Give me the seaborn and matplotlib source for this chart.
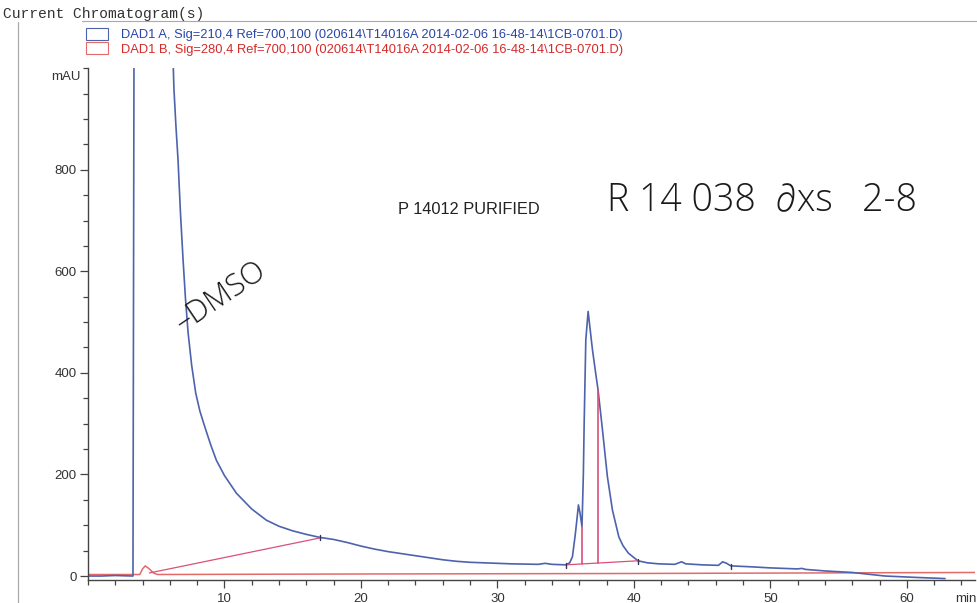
import numpy as np
import pandas as pd
import matplotlib
matplotlib.use("Agg")
import matplotlib.pyplot as plt
import seaborn as sns
from matplotlib.patches import Patch
from matplotlib.ticker import MultipleLocator, FixedLocator
from matplotlib.lines import Line2D

# ---------------- data ----------------
time_a = [0.0, 1.0, 2.0, 3.30, 3.38, 6.15, 6.30, 6.45, 6.60, 6.78, 6.97, 7.15, 7.34, 7.60, 7.90,
          8.20, 8.56, 9.0, 9.41, 10.0, 10.88, 12.0, 13.07, 14.0, 15.0, 16.0, 17.0, 18.0, 19.0,
          20.0, 21.0, 22.0, 23.0, 24.0, 25.0, 26.0, 27.0, 28.0, 29.0, 30.0, 31.0, 32.0, 33.0,
          33.5, 34.0, 35.0, 35.3, 35.5, 35.7, 35.8, 35.94, 36.05, 36.2, 36.3, 36.36, 36.48,
          36.65, 36.8, 36.97, 37.2, 37.38, 37.7, 38.06, 38.43, 38.9, 39.2, 39.6, 40.3,
          41.0, 41.8, 43.0, 43.5, 43.8, 45.0, 46.2, 46.5, 46.8, 47.1, 48.7, 50.0, 52.0,
          52.3, 52.6, 54.0, 56.0, 58.4, 60.9, 62.8]
mau_a = [0, 0, 1, 0, 1100, 1100, 960, 885, 820, 715, 623, 545, 479, 415, 360,
         325, 294, 258, 228, 198, 163, 132, 110, 98, 89, 82, 76, 72, 66,
         59, 53, 48, 44, 40, 36, 32, 29, 27, 26, 25, 24, 23.5, 23,
         25, 23, 22, 26, 38, 80, 104, 140, 125, 97, 200, 301, 465,
         521, 485, 445, 400, 366, 288, 196, 130, 77, 60, 45, 30,
         26, 24, 23, 28, 24, 22, 21, 28, 25, 20, 18, 16, 14,
         15, 13, 10, 7, 0, -3, -5]

time_b = [0.0, 3.8, 4.0, 4.2, 4.5, 4.8, 5.1, 20.0, 40.0, 65.0]
mau_b = [3, 3, 14, 20, 14, 6, 3, 4, 5, 7]

base1_t = [4.5, 17.0]
base1_y = [6, 75]
base2_t = [35.0, 40.3]
base2_y = [22, 30]
drop_t = [36.23, 37.38]
drop_top = [97, 366]
mark_t = [17.0, 35.0, 40.3, 47.1]

x_major = [10, 20, 30, 40, 50, 60]
y_major = [0, 200, 400, 600, 800]

legend_labels = [
    "DAD1 A, Sig=210,4 Ref=700,100 (020614\\T14016A 2014-02-06 16-48-14\\1CB-0701.D)",
    "DAD1 B, Sig=280,4 Ref=700,100 (020614\\T14016A 2014-02-06 16-48-14\\1CB-0701.D)",
]

# ---------------- style ----------------
sns.set_style("ticks")
plt.rcParams['font.family'] = ['Liberation Sans', 'DejaVu Sans']

BLUE = "#4d63ab"
RED_SIG = "#e46a6a"
RED_INT = "#d9507a"
AXC = "#444444"

fig = plt.figure(figsize=(9.77, 6.03), dpi=100)
fig.patch.set_facecolor("white")
ax = fig.add_axes([0.090, 0.038, 0.908, 0.849])

df_a = pd.DataFrame({"t": time_a, "mAU": mau_a})
df_b = pd.DataFrame({"t": time_b, "mAU": mau_b})

sns.lineplot(data=df_b, x="t", y="mAU", ax=ax, color=RED_SIG, lw=1.1,
             estimator=None, sort=False)
sns.lineplot(data=df_a, x="t", y="mAU", ax=ax, color=BLUE, lw=1.2,
             estimator=None, sort=False)

# integration baselines & drop lines
sns.lineplot(x=base1_t, y=base1_y, ax=ax, color=RED_INT, lw=0.9, estimator=None, sort=False)
sns.lineplot(x=base2_t, y=base2_y, ax=ax, color=RED_INT, lw=0.9, estimator=None, sort=False)
for t, top in zip(drop_t, drop_top):
    b = np.interp(t, base2_t, base2_y)
    ax.plot([t, t], [b, top], color=RED_INT, lw=1.2)
# small peak start/end markers
for t in mark_t:
    yv = np.interp(t, time_a, mau_a)
    ax.plot([t, t], [yv - 6, yv + 4], color="#333355", lw=1.0)

ax.set_xlim(0, 65)
ax.set_ylim(-8, 1000)

ax.xaxis.set_major_locator(FixedLocator(x_major))
ax.xaxis.set_minor_locator(MultipleLocator(2))
ax.yaxis.set_major_locator(FixedLocator(y_major))
ax.yaxis.set_minor_locator(MultipleLocator(50))
ax.set_xticklabels([str(v) for v in x_major])
ax.set_yticklabels([str(v) for v in y_major])

ax.tick_params(axis="both", which="major", length=6, width=0.9, color=AXC,
               labelsize=9.5, labelcolor="#333333")
ax.tick_params(axis="both", which="minor", length=3.5, width=0.9, color=AXC)
ax.tick_params(axis="x", pad=3)
ax.tick_params(axis="y", pad=2)
ax.set_xlabel("")
ax.set_ylabel("")
sns.despine(ax=ax, top=True, right=True)
for s in ("left", "bottom"):
    ax.spines[s].set_color(AXC)
    ax.spines[s].set_linewidth(1.0)

ax.text(-0.008, 0.995, "mAU", transform=ax.transAxes, ha="right", va="top",
        fontsize=9.5, color="#333333")
ax.text(64.3, -0.025, "min", transform=ax.get_xaxis_transform(), ha="center", va="top",
        fontsize=9.5, color="#333333")

# annotations
ax.text(22.7, 722, "P 14012 PURIFIED", fontsize=11.8, color="#222222", va="center")
ax.text(38.0, 740, "R 14 038  \u2202xs   2-8", fontsize=27, color="#1a1a1a",
        va="center", family=["Open Sans", "DejaVu Sans"], weight="light")
ax.text(7.3, 468, "\u2013DMSO", fontsize=22, color="#1a1a1a", rotation=34,
        rotation_mode="anchor", ha="left", va="bottom",
        family=["Open Sans", "DejaVu Sans"], weight="light")

# header
fig.text(0.003, 0.977, "Current Chromatogram(s)", family=["Liberation Mono", "DejaVu Sans Mono"],
         fontsize=10.5, color="#333333", va="center", ha="left")
fig.add_artist(Line2D([82 / 977, 1.0], [1 - 21 / 603, 1 - 21 / 603], color="#aaaaaa", lw=0.8))
fig.add_artist(Line2D([18 / 977, 18 / 977], [0, 1 - 22 / 603], color="#aaaaaa", lw=0.9))

handles = [Patch(facecolor="white", edgecolor=BLUE, lw=0.8),
           Patch(facecolor="white", edgecolor=RED_SIG, lw=0.8)]
leg = fig.legend(handles, legend_labels, loc="upper left",
                 bbox_to_anchor=(86 / 977, 1 - 28 / 603), frameon=False,
                 fontsize=9.3, handlelength=1.7, handleheight=1.0, handletextpad=1.0,
                 labelspacing=0.1, borderpad=0.0, borderaxespad=0.0)
for txt, c in zip(leg.get_texts(), ["#2a45a8", "#d42a2a"]):
    txt.set_color(c)

fig.savefig("out.png", dpi=100, facecolor="white")
